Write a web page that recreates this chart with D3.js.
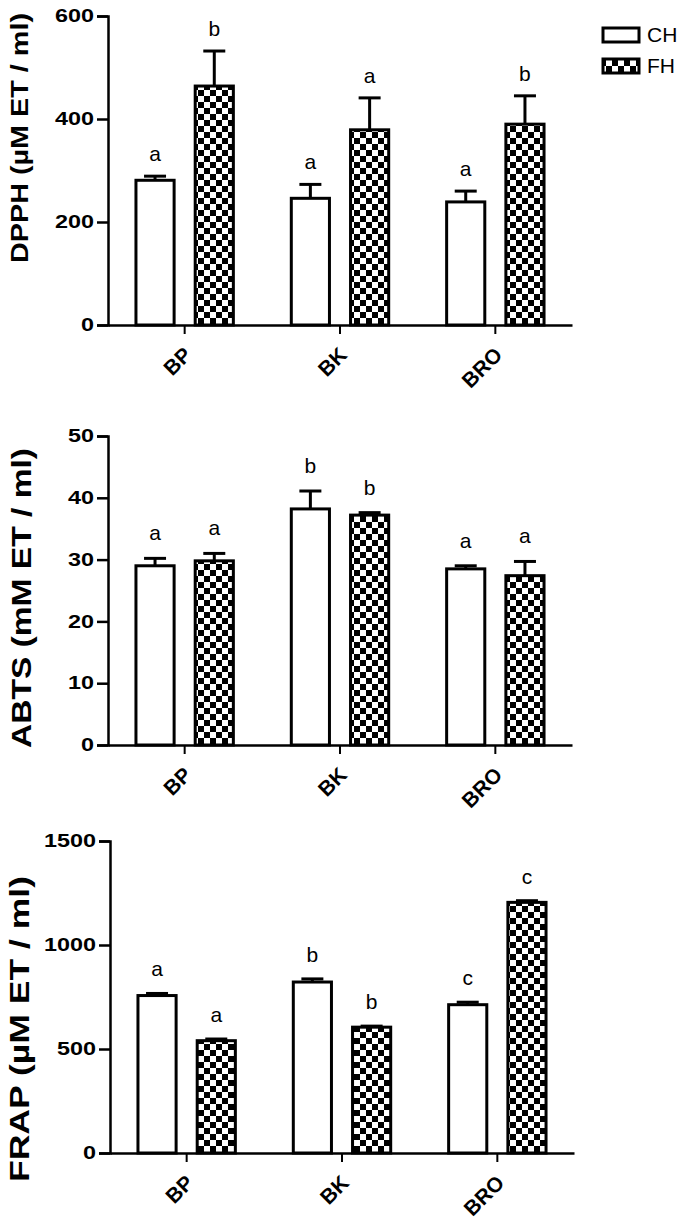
<!DOCTYPE html>
<html>
<head>
<meta charset="utf-8">
<script src="https://cdn.jsdelivr.net/npm/d3@7"></script>
<style>
  html, body { margin: 0; padding: 0; background: #fff; }
  svg { display: block; }
</style>
</head>
<body>
<script>
// ---------------- DATA ----------------
const groups = ["BP", "BK", "BRO"];
const seriesNames = ["CH", "FH"];

// DPPH (µM ET / ml)
const dpphTicks = [0, 200, 400, 600];
const dpphCH = [281, 246, 239];
const dpphCHErr = [8, 27, 21];
const dpphFH = [464, 379, 390];
const dpphFHErr = [68, 62, 55];
const dpphCHLetters = ["a", "a", "a"];
const dpphFHLetters = ["b", "a", "b"];

// ABTS (mM ET / ml)
const abtsTicks = [0, 10, 20, 30, 40, 50];
const abtsCH = [29.0, 38.2, 28.5];
const abtsCHErr = [1.2, 2.9, 0.5];
const abtsFH = [29.8, 37.2, 27.4];
const abtsFHErr = [1.2, 0.4, 2.3];
const abtsCHLetters = ["a", "b", "a"];
const abtsFHLetters = ["a", "b", "a"];

// FRAP (µM ET / ml)
const frapTicks = [0, 500, 1000, 1500];
const frapCH = [757, 822, 713];
const frapCHErr = [10, 15, 12];
const frapFH = [540, 605, 1205];
const frapFHErr = [8, 5, 8];
const frapCHLetters = ["a", "b", "c"];
const frapFHLetters = ["a", "b", "c"];

// ---------------- LAYOUT ----------------
const W = 685, H = 1231;
const svg = d3.select("body").append("svg").attr("width", W).attr("height", H);

const defs = svg.append("defs");
const pat = defs.append("pattern").attr("id", "checker")
  .attr("patternUnits", "userSpaceOnUse").attr("width", 12).attr("height", 12);
pat.append("rect").attr("width", 12).attr("height", 12).attr("fill", "#fff");
pat.append("rect").attr("x", 0).attr("y", 0).attr("width", 6).attr("height", 6).attr("fill", "#000");
pat.append("rect").attr("x", 6).attr("y", 6).attr("width", 6).attr("height", 6).attr("fill", "#000");

const panels = [
  { title: "DPPH (µM ET / ml)", ticks: dpphTicks, ch: dpphCH, chErr: dpphCHErr, fh: dpphFH, fhErr: dpphFHErr,
    chL: dpphCHLetters, fhL: dpphFHLetters, x0: 108, x1: 572, yTop: 16, yBot: 325, gap: 15,
    titleX: 20, titleY: 138, titleSize: 24, titleLen: 250 },
  { title: "ABTS (mM ET / ml)", ticks: abtsTicks, ch: abtsCH, chErr: abtsCHErr, fh: abtsFH, fhErr: abtsFHErr,
    chL: abtsCHLetters, fhL: abtsFHLetters, x0: 108, x1: 572, yTop: 436, yBot: 745, gap: 18,
    titleX: 22, titleY: 598, titleSize: 27, titleLen: 300 },
  { title: "FRAP (µM ET / ml)", ticks: frapTicks, ch: frapCH, chErr: frapCHErr, fh: frapFH, fhErr: frapFHErr,
    chL: frapCHLetters, fhL: frapFHLetters, x0: 110, x1: 574, yTop: 841, yBot: 1153, gap: 17,
    titleX: 20, titleY: 1029, titleSize: 27, titleLen: 306 }
];

const FONT = "'Liberation Sans', Arial, Helvetica, sans-serif";

panels.forEach(p => {
  const g = svg.append("g");
  const y = d3.scaleLinear().domain([0, d3.max(p.ticks)]).range([p.yBot, p.yTop]);
  const x = d3.scaleBand().domain(groups).range([p.x0, p.x1]).paddingInner(0.373).paddingOuter(0.18);
  const xs = d3.scaleBand().domain(seriesNames).range([0, x.bandwidth()]).paddingInner(0.356).paddingOuter(0);

  const data = [];
  groups.forEach((gr, i) => {
    data.push({ g: gr, s: "CH", v: p.ch[i], e: p.chErr[i], l: p.chL[i] });
    data.push({ g: gr, s: "FH", v: p.fh[i], e: p.fhErr[i], l: p.fhL[i] });
  });

  // bars
  g.selectAll("rect.bar").data(data).join("rect")
    .attr("class", "bar")
    .attr("x", d => x(d.g) + xs(d.s))
    .attr("y", d => y(d.v))
    .attr("width", xs.bandwidth())
    .attr("height", d => y(0) - y(d.v))
    .attr("fill", d => d.s === "CH" ? "#fff" : "url(#checker)")
    .attr("stroke", "#000").attr("stroke-width", 3);

  // error bars (upper only)
  const cx = d => x(d.g) + xs(d.s) + xs.bandwidth() / 2;
  g.selectAll("line.err").data(data).join("line")
    .attr("x1", cx).attr("x2", cx)
    .attr("y1", d => y(d.v)).attr("y2", d => y(d.v + d.e))
    .attr("stroke", "#000").attr("stroke-width", 3);
  g.selectAll("line.cap").data(data).join("line")
    .attr("x1", d => cx(d) - 11).attr("x2", d => cx(d) + 11)
    .attr("y1", d => y(d.v + d.e)).attr("y2", d => y(d.v + d.e))
    .attr("stroke", "#000").attr("stroke-width", 3);

  // letters
  g.selectAll("text.let").data(data).join("text")
    .attr("x", cx).attr("y", d => y(d.v + d.e) - p.gap)
    .attr("text-anchor", "middle")
    .attr("font-family", FONT).attr("font-size", 21)
    .text(d => d.l);

  // y axis
  const yAxis = d3.axisLeft(y).tickValues(p.ticks).tickSize(11).tickPadding(3).tickFormat(d3.format("d"));
  const ya = g.append("g").attr("transform", `translate(${p.x0},0)`).call(yAxis);
  ya.select(".domain").attr("stroke-width", 2.5);
  ya.selectAll(".tick line").attr("stroke-width", 2.5);
  ya.selectAll(".tick text")
    .attr("x", null)
    .attr("transform", "translate(-14,0) scale(1.3,1)")
    .attr("font-family", FONT).attr("font-size", 18).attr("font-weight", "bold").attr("fill", "#000");

  // x axis
  const xAxis = d3.axisBottom(x).tickSize(9).tickSizeOuter(0).tickFormat(() => "");
  const xa = g.append("g").attr("transform", `translate(0,${p.yBot})`).call(xAxis);
  xa.select(".domain").attr("stroke-width", 2.5);
  xa.selectAll(".tick line").attr("stroke-width", 2);

  g.selectAll("text.xl").data(groups).join("text")
    .attr("transform", d => `translate(${x(d) + x.bandwidth() / 2 + 3},${p.yBot + 26}) rotate(-45)`)
    .attr("text-anchor", "end").attr("dy", "0.35em")
    .attr("font-family", FONT).attr("font-size", 21).attr("font-weight", "bold")
    .text(d => d);

  // y title
  g.append("text")
    .attr("transform", `translate(${p.titleX},${p.titleY}) rotate(-90)`)
    .attr("text-anchor", "middle").attr("dy", "0.35em")
    .attr("font-family", FONT).attr("font-size", p.titleSize).attr("font-weight", "bold")
    .attr("textLength", p.titleLen).attr("lengthAdjust", "spacingAndGlyphs")
    .text(p.title);
});

// legend
const leg = svg.append("g");
seriesNames.forEach((s, i) => {
  leg.append("rect").attr("x", 603).attr("y", 28 + i * 31).attr("width", 36).attr("height", 14)
    .attr("fill", s === "CH" ? "#fff" : "url(#checker)").attr("stroke", "#000").attr("stroke-width", 3);
  leg.append("text").attr("x", 647).attr("y", 35 + i * 31).attr("dy", "0.35em")
    .attr("font-family", FONT).attr("font-size", 21).text(s);
});
</script>
</body>
</html>
